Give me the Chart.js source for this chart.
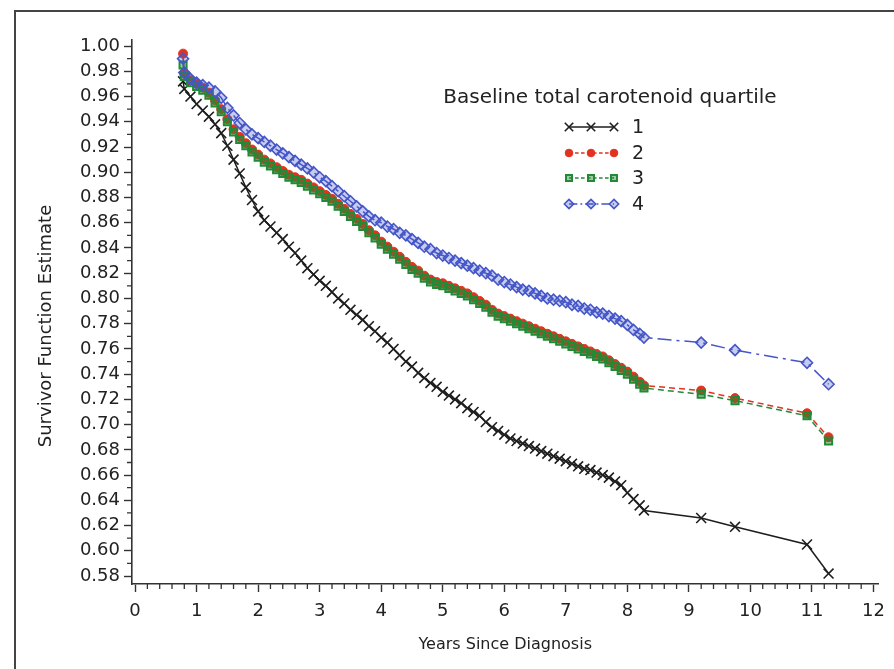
<!DOCTYPE html>
<html lang="en">
<head>
	<meta charset="UTF-8">
	<title>Survivor Function Estimate</title>
	<script src="https://cdn.jsdelivr.net/npm/chart.js"></script>
	<style>
		html, body { margin: 0; padding: 0; background: #fff; overflow: hidden; }
		#wrap { position: relative; width: 894px; height: 669px; }
		#frame { position: absolute; left: 14px; top: 10px; width: 920px; height: 700px; border: 2px solid #444; box-sizing: border-box; }
		canvas { position: absolute; left: 0; top: 0; }
	</style>
</head>
<body>
	<div id="wrap">
		<div id="frame"></div>
		<canvas id="myChart" width="894" height="669"></canvas>
	</div>
	<script>
		// years since diagnosis (shared by all four quartiles)
		const years = [
			0.78, 0.8, 0.9, 1.0, 1.1, 1.2, 1.3, 1.4, 1.5, 1.6, 1.7, 1.8, 1.9, 2.0,
			2.1, 2.2, 2.3, 2.4, 2.5, 2.6, 2.7, 2.8, 2.9, 3.0, 3.1, 3.2, 3.3, 3.4,
			3.5, 3.6, 3.7, 3.8, 3.9, 4.0, 4.1, 4.2, 4.3, 4.4, 4.5, 4.6, 4.7, 4.8,
			4.9, 5.0, 5.1, 5.2, 5.3, 5.4, 5.5, 5.6, 5.7, 5.8, 5.9, 6.0, 6.1, 6.2,
			6.3, 6.4, 6.5, 6.6, 6.7, 6.8, 6.9, 7.0, 7.1, 7.2, 7.3, 7.4, 7.5, 7.6,
			7.7, 7.8, 7.9, 8.0, 8.1, 8.2, 8.27, 9.2, 9.75, 10.92, 11.27
		];

		const quartile1 = [
			0.972, 0.966, 0.960, 0.954, 0.949, 0.944, 0.938, 0.931, 0.921, 0.910, 0.899, 0.888, 0.878, 0.869,
			0.862, 0.857, 0.852, 0.847, 0.841, 0.836, 0.830, 0.824, 0.819, 0.814, 0.810, 0.805, 0.800, 0.796,
			0.791, 0.787, 0.783, 0.778, 0.774, 0.769, 0.765, 0.760, 0.755, 0.750, 0.746, 0.741, 0.737, 0.733,
			0.730, 0.726, 0.723, 0.720, 0.717, 0.713, 0.710, 0.707, 0.702, 0.698, 0.695, 0.692, 0.689, 0.687,
			0.685, 0.683, 0.681, 0.679, 0.677, 0.675, 0.673, 0.671, 0.669, 0.667, 0.665, 0.664, 0.662, 0.660,
			0.658, 0.655, 0.652, 0.646, 0.641, 0.636, 0.632, 0.626, 0.619, 0.605, 0.582
		];

		const quartile2 = [
			0.994, 0.978, 0.973, 0.970, 0.967, 0.963, 0.957, 0.950, 0.942, 0.934, 0.928, 0.923, 0.918, 0.914,
			0.910, 0.907, 0.904, 0.901, 0.898, 0.896, 0.894, 0.891, 0.888, 0.885, 0.882, 0.879, 0.875, 0.871,
			0.867, 0.863, 0.859, 0.854, 0.850, 0.845, 0.841, 0.837, 0.833, 0.829, 0.825, 0.822, 0.818, 0.815,
			0.813, 0.812, 0.810, 0.808, 0.806, 0.804, 0.801, 0.798, 0.795, 0.791, 0.788, 0.786, 0.784, 0.782,
			0.780, 0.778, 0.776, 0.774, 0.772, 0.770, 0.768, 0.766, 0.764, 0.762, 0.760, 0.758, 0.756, 0.754,
			0.751, 0.748, 0.745, 0.742, 0.738, 0.734, 0.731, 0.727, 0.721, 0.709, 0.690
		];

		const quartile3 = [
			0.985, 0.976, 0.971, 0.968, 0.965, 0.961, 0.955, 0.948, 0.940, 0.932, 0.926, 0.921, 0.916, 0.912,
			0.908, 0.905, 0.902, 0.899, 0.896, 0.894, 0.892, 0.889, 0.886, 0.883, 0.880, 0.877, 0.873, 0.869,
			0.865, 0.861, 0.857, 0.852, 0.848, 0.843, 0.839, 0.835, 0.831, 0.827, 0.823, 0.820, 0.816, 0.813,
			0.811, 0.810, 0.808, 0.806, 0.804, 0.802, 0.799, 0.796, 0.793, 0.789, 0.786, 0.784, 0.782, 0.780,
			0.778, 0.776, 0.774, 0.772, 0.770, 0.768, 0.766, 0.764, 0.762, 0.760, 0.758, 0.756, 0.754, 0.752,
			0.749, 0.746, 0.743, 0.740, 0.736, 0.732, 0.729, 0.724, 0.719, 0.707, 0.687
		];

		const quartile4 = [
			0.990, 0.979, 0.974, 0.971, 0.969, 0.967, 0.964, 0.959, 0.951, 0.945, 0.939, 0.934, 0.930, 0.927,
			0.924, 0.921, 0.918, 0.915, 0.912, 0.909, 0.906, 0.903, 0.900, 0.896, 0.893, 0.889, 0.885, 0.881,
			0.877, 0.873, 0.869, 0.865, 0.862, 0.860, 0.857, 0.855, 0.852, 0.850, 0.847, 0.844, 0.841, 0.839,
			0.836, 0.834, 0.832, 0.830, 0.828, 0.826, 0.824, 0.822, 0.820, 0.818, 0.815, 0.813, 0.811, 0.809,
			0.807, 0.806, 0.804, 0.802, 0.800, 0.799, 0.798, 0.797, 0.795, 0.794, 0.792, 0.791, 0.789, 0.788,
			0.786, 0.784, 0.782, 0.779, 0.775, 0.772, 0.769, 0.765, 0.759, 0.749, 0.732
		];

		const seriesLabels = ['1', '2', '3', '4'];
		const legendTitle = 'Baseline total carotenoid quartile';
		const xTitle = 'Years Since Diagnosis';
		const yTitle = 'Survivor Function Estimate';
		const xTicks = [0, 1, 2, 3, 4, 5, 6, 7, 8, 9, 10, 11, 12];

		const FONT = "'DejaVu Sans', sans-serif";
		const TEXT = '#222';

		const toPoints = vals => vals.map((v, i) => ({ x: years[i], y: v }));

		const styles = [
			{ color: '#1e1e1e', point: 'crossRot', radius: 7, bw: 1.6, fill: 'rgba(0,0,0,0)', dash: [], order: 3 },
			{ color: '#e3321f', point: 'circle', radius: 4.5, bw: 1, fill: '#e3321f', dash: [6, 4], order: 2 },
			{ color: '#228a36', point: 'rect', radius: 5, bw: 2, fill: 'rgba(34,138,54,0.45)', dash: [6, 4], order: 1 },
			{ color: '#4456c8', point: 'rectRot', radius: 5.5, bw: 1.6, fill: 'rgba(68,86,200,0.3)', dash: [14, 5, 3, 5], order: 0 }
		];

		const allSeries = [quartile1, quartile2, quartile3, quartile4];

		// minor ticks between the labelled ones, plus the rotated y title
		const axisExtras = {
			id: 'axisExtras',
			afterDraw(chart) {
				const ctx = chart.ctx;
				const xs = chart.scales.x, ys = chart.scales.y;
				ctx.save();
				ctx.strokeStyle = '#333';
				ctx.lineWidth = 1.3;
				ctx.beginPath();
				for (let i = 0; i <= 60; i++) {
					if (i % 5 === 0) continue;
					const px = xs.getPixelForValue(i / 5);
					ctx.moveTo(px, xs.top);
					ctx.lineTo(px, xs.top + 5);
				}
				for (let i = 58; i <= 100; i++) {
					if (i % 2 === 0) continue;
					const py = ys.getPixelForValue(i / 100);
					ctx.moveTo(ys.right, py);
					ctx.lineTo(ys.right - 5, py);
				}
				ctx.stroke();

				ctx.translate(46, 326);
				ctx.rotate(-Math.PI / 2);
				ctx.fillStyle = TEXT;
				ctx.font = '18px ' + FONT;
				ctx.textAlign = 'center';
				ctx.textBaseline = 'middle';
				ctx.fillText(yTitle, 0, 0);
				ctx.restore();
			}
		};

		// legend in the upper right of the plot
		const quartileLegend = {
			id: 'quartileLegend',
			afterDatasetsDraw(chart) {
				const ctx = chart.ctx;
				ctx.save();
				ctx.fillStyle = TEXT;
				ctx.font = '20px ' + FONT;
				ctx.textAlign = 'center';
				ctx.textBaseline = 'middle';
				ctx.fillText(legendTitle, 610, 98);
				const rows = [127, 153, 178, 204];
				const marks = [569, 591, 614];
				seriesLabels.forEach((lab, i) => {
					const s = styles[i];
					const y = rows[i];
					ctx.strokeStyle = s.color;
					ctx.lineWidth = 1.3;
					ctx.setLineDash(s.dash.map(d => d * 0.6));
					ctx.beginPath();
					ctx.moveTo(marks[0], y);
					ctx.lineTo(marks[2], y);
					ctx.stroke();
					ctx.setLineDash([]);
					marks.forEach(mx => {
						ctx.fillStyle = s.fill;
						ctx.strokeStyle = s.color;
						ctx.lineWidth = s.bw;
						Chart.helpers.drawPoint(ctx, { pointStyle: s.point, radius: s.radius * 0.85, borderWidth: s.bw, rotation: 0 }, mx, y);
					});
					ctx.fillStyle = TEXT;
					ctx.font = '19px ' + FONT;
					ctx.textAlign = 'left';
					ctx.fillText(lab, 632, y + 1);
				});
				ctx.restore();
			}
		};

		window.onload = function () {
			const ctx = document.getElementById('myChart').getContext('2d');
			new Chart(ctx, {
				type: 'line',
				data: {
					datasets: allSeries.map((vals, i) => ({
						label: seriesLabels[i],
						data: toPoints(vals),
						borderColor: styles[i].color,
						backgroundColor: styles[i].fill,
						borderWidth: 1.5,
						borderDash: styles[i].dash,
						pointStyle: styles[i].point,
						pointRadius: styles[i].radius,
						pointBorderWidth: styles[i].bw,
						pointBorderColor: styles[i].color,
						pointBackgroundColor: styles[i].fill,
						tension: 0,
						fill: false,
						order: styles[i].order
					}))
				},
				options: {
					responsive: false,
					animation: false,
					layout: { padding: { top: 40, right: 5, bottom: 0, left: 0 } },
					plugins: { legend: { display: false }, tooltip: { enabled: false } },
					scales: {
						x: {
							type: 'linear',
							min: -0.05,
							max: 12.08,
							afterFit(scale) { scale.height = 85; },
							afterBuildTicks(scale) { scale.ticks = xTicks.map(v => ({ value: v })); },
							ticks: { font: { family: FONT, size: 18 }, color: TEXT, padding: 9 },
							grid: { drawOnChartArea: false, tickLength: 8, tickColor: '#333', tickWidth: 1.4 },
							border: { color: '#333', width: 1.6 },
							title: {
								display: true,
								text: xTitle,
								font: { family: FONT, size: 16 },
								color: TEXT,
								padding: { top: 0, bottom: 15 }
							}
						},
						y: {
							type: 'linear',
							min: 0.5737,
							max: 1.0048,
							afterFit(scale) { scale.width = 132; },
							ticks: {
								stepSize: 0.02,
								includeBounds: false,
								font: { family: FONT, size: 18 },
								color: TEXT,
								padding: 4,
								callback: v => v.toFixed(2)
							},
							grid: { drawOnChartArea: false, tickLength: 8, tickColor: '#333', tickWidth: 1.4 },
							border: { color: '#333', width: 1.6 }
						}
					}
				},
				plugins: [axisExtras, quartileLegend]
			});
		};
	</script>
</body>
</html>
